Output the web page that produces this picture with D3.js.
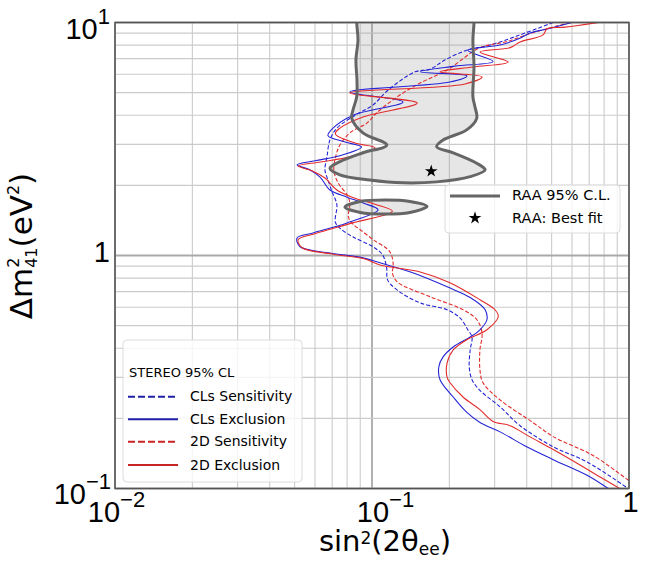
<!DOCTYPE html>
<html><head><meta charset="utf-8">
<script src="https://cdn.jsdelivr.net/npm/d3@7"></script>
<style>
body{margin:0;background:#fff}
svg{display:block}
text{font-family:"DejaVu Sans",sans-serif;fill:#000}
.tick-label{font-family:"Liberation Sans",Arial,sans-serif}
</style>
</head><body>
<svg id="c" width="648" height="576"></svg>
<script>
// ---------------- data (sin^2(2θee), Δm²41 in eV²) ----------------
const clsSensitivity = [[0.507,10],[0.377,8.85],[0.288,8.0],[0.234,7.6],[0.192,6.9],[0.168,6.3],[0.147,6.14],[0.1156,5.13],[0.101,4.43],[0.086,4.0],[0.073,3.52],[0.0686,3.13],[0.0668,2.65],[0.0656,2.33],[0.0674,2.11],[0.07,1.87],[0.073,1.65],[0.072,1.39],[0.075,1.31],[0.0845,1.2],[0.101,1.09],[0.11,1.005],[0.114,0.885],[0.115,0.786],[0.1255,0.71],[0.154,0.626],[0.196,0.585],[0.22,0.54],[0.236,0.48],[0.245,0.447],[0.241,0.393],[0.239,0.333],[0.245,0.293],[0.263,0.264],[0.315,0.224],[0.377,0.186],[0.507,0.151],[0.687,0.13],[0.98,0.101]];
const clsExclusion = [[0.60,10],[0.485,9.4],[0.41,9.0],[0.38,8.6],[0.315,8.0],[0.236,7.6],[0.296,6.8],[0.21,6.5],[0.154,6.15],[0.234,5.9],[0.201,5.55],[0.082,5.03],[0.132,4.56],[0.0845,4.0],[0.0705,3.52],[0.0674,3.27],[0.0785,3.07],[0.091,2.92],[0.075,2.68],[0.06,2.55],[0.0511,2.45],[0.0574,2.33],[0.0628,2.17],[0.0686,1.91],[0.08,1.78],[0.0923,1.68],[0.1056,1.57],[0.08,1.38],[0.059,1.25],[0.0511,1.19],[0.0525,1.09],[0.0686,1.025],[0.0923,0.977],[0.1075,0.93],[0.144,0.843],[0.196,0.734],[0.241,0.66],[0.2755,0.585],[0.28,0.53],[0.263,0.48],[0.241,0.447],[0.207,0.405],[0.189,0.367],[0.182,0.333],[0.184,0.293],[0.207,0.247],[0.234,0.212],[0.263,0.192],[0.315,0.175],[0.40,0.151],[0.507,0.133],[0.687,0.114],[0.83,0.1]];
const twoDSensitivity = [[0.59,10],[0.431,9.1],[0.33,8.25],[0.263,7.8],[0.196,6.25],[0.154,5.5],[0.1255,4.8],[0.1045,4.1],[0.0955,3.7],[0.082,3.36],[0.075,2.98],[0.0725,2.7],[0.071,2.33],[0.0738,2.05],[0.08,1.82],[0.082,1.68],[0.081,1.46],[0.0845,1.36],[0.09,1.29],[0.101,1.17],[0.1175,1.035],[0.121,0.90],[0.12,0.843],[0.1255,0.77],[0.168,0.666],[0.226,0.585],[0.256,0.53],[0.268,0.464],[0.263,0.393],[0.263,0.324],[0.27,0.285],[0.315,0.24],[0.423,0.192],[0.507,0.167],[0.687,0.143],[0.77,0.133],[1.0,0.108]];
const twoDExclusion = [[0.76,10],[0.564,9.55],[0.48,9.4],[0.463,8.85],[0.377,8.25],[0.345,7.8],[0.263,7.47],[0.339,6.77],[0.247,6.44],[0.184,6.14],[0.268,5.84],[0.23,5.45],[0.082,4.98],[0.15,4.51],[0.0923,3.93],[0.075,3.52],[0.072,3.33],[0.0859,3.04],[0.1027,2.9],[0.082,2.65],[0.063,2.52],[0.0516,2.42],[0.0584,2.31],[0.0656,2.15],[0.073,1.91],[0.0859,1.76],[0.1027,1.66],[0.12,1.55],[0.082,1.37],[0.06,1.24],[0.0516,1.17],[0.0535,1.08],[0.07,1.015],[0.094,0.966],[0.1075,0.91],[0.154,0.85],[0.201,0.764],[0.263,0.646],[0.301,0.585],[0.31,0.547],[0.28,0.48],[0.234,0.435],[0.207,0.393],[0.196,0.346],[0.196,0.30],[0.201,0.285],[0.226,0.247],[0.263,0.218],[0.296,0.194],[0.345,0.186],[0.41,0.167],[0.507,0.147],[0.662,0.124],[0.772,0.112],[0.92,0.1]];
const raaBand = [[0.0872,12],[0.0872,10],[0.0882,8.41],[0.0866,6.9],[0.0874,5.66],[0.0872,4.8],[0.0844,4.22],[0.0834,3.88],[0.0922,3.36],[0.1142,2.98],[0.0922,2.76],[0.075,2.53],[0.0686,2.37],[0.075,2.22],[0.098,2.11],[0.132,2.05],[0.1785,2.07],[0.241,2.18],[0.2755,2.33],[0.2555,2.49],[0.207,2.76],[0.1785,2.93],[0.189,3.13],[0.2335,3.46],[0.2555,3.88],[0.2515,4.35],[0.247,4.8],[0.2494,6.46],[0.247,8.41],[0.2494,10],[0.2494,12]];
const raaIsland = [[0.0785,1.615],[0.09,1.705],[0.1124,1.73],[0.1404,1.705],[0.1637,1.625],[0.1404,1.53],[0.1124,1.507],[0.09,1.53]];
const raaBestFit = [0.17, 2.3];
const xTickValues = [0.01, 0.1, 1];
const xTickLabels = [["10","\u22122"],["10","\u22121"],["1",""]];
const yTickValues = [0.1, 1, 10];
const yTickLabels = [["10","\u22121"],["1",""],["10","1"]];
const legendTitle = "STEREO 95% CL";
const legendNames = ["CLs Sensitivity","CLs Exclusion","2D Sensitivity","2D Exclusion"];
const raaLegendNames = ["RAA 95% C.L.","RAA: Best fit"];

// ---------------- layout ----------------
const X0=115, X1=629, Y0=22.5, Y1=488.5;
const BLUE="#2424d6", RED="#e32b2b", BLUE_L="#1f1fa8", RED_L="#c92424";
const svg = d3.select('#c');
const x = d3.scaleLog().domain([0.01,1]).range([X0,X1]);
const y = d3.scaleLog().domain([0.1,10]).range([Y1,Y0]);
const isMajor = v => Math.abs(Math.log10(v)-Math.round(Math.log10(v)))<1e-6;

svg.append('defs').append('clipPath').attr('id','clip')
  .append('rect').attr('x',X0).attr('y',Y0).attr('width',X1-X0).attr('height',Y1-Y0);

// grid
const grid = svg.append('g');
const xt = x.ticks(), yt = y.ticks();
grid.selectAll('line.gx').data(xt).join('line').attr('class','gx')
  .attr('x1',d=>x(d)).attr('x2',d=>x(d)).attr('y1',Y0).attr('y2',Y1)
  .attr('stroke',d=>isMajor(d)?'#a9a9a9':'#cbcbcb').attr('stroke-width',d=>isMajor(d)?1.8:1.1);
grid.selectAll('line.gy').data(yt).join('line').attr('class','gy')
  .attr('y1',d=>y(d)).attr('y2',d=>y(d)).attr('x1',X0).attr('x2',X1)
  .attr('stroke',d=>isMajor(d)?'#a9a9a9':'#cbcbcb').attr('stroke-width',d=>isMajor(d)?1.8:1.1);

const plot = svg.append('g').attr('clip-path','url(#clip)');
const line = d3.line().x(d=>x(d[0])).y(d=>y(d[1])).curve(d3.curveCatmullRom.alpha(0.5));
const closed = d3.line().x(d=>x(d[0])).y(d=>y(d[1])).curve(d3.curveCatmullRomClosed.alpha(0.5));

// RAA region
plot.append('path').attr('d',line(raaBand)).attr('fill','#9a9a9a').attr('fill-opacity',0.25).attr('stroke','none');
plot.append('path').attr('d',closed(raaIsland)).attr('fill','#9a9a9a').attr('fill-opacity',0.25).attr('stroke','none');

// STEREO curves
const series = [
  {d:clsSensitivity,c:BLUE,dash:'4,2'},
  {d:twoDSensitivity,c:RED,dash:'4,2'},
  {d:clsExclusion,c:BLUE,dash:null},
  {d:twoDExclusion,c:RED,dash:null}
];
series.forEach(s=>{
  plot.append('path').attr('d',line(s.d)).attr('fill','none').attr('stroke',s.c)
    .attr('stroke-width',1.1).attr('stroke-dasharray',s.dash);
});

plot.append('path').attr('d',line(raaBand)).attr('fill','none').attr('stroke','#666').attr('stroke-width',3);
plot.append('path').attr('d',closed(raaIsland)).attr('fill','none').attr('stroke','#666').attr('stroke-width',3);

const star = d3.symbol(d3.symbolStar, 50);
plot.append('path').attr('d',star()).attr('transform',`translate(${x(raaBestFit[0])},${y(raaBestFit[1])})`).attr('fill','#000');

// frame
svg.append('rect').attr('x',X0).attr('y',Y0).attr('width',X1-X0).attr('height',Y1-Y0)
  .attr('fill','none').attr('stroke','#555').attr('stroke-width',1.5);

// axes with custom labels
const xLayout = [{dx:1,y:522},{dx:13,y:522},{dx:1,y:512}];
const xAxis = svg.append('g').call(d3.axisBottom(x).tickValues(xTickValues).tickSize(0).tickFormat(''));
xAxis.select('.domain').remove();
xAxis.selectAll('.tick').each(function(d,i){
  const t = d3.select(this).append('text').attr('class','tick-label').attr('text-anchor','middle')
    .attr('x',xLayout[i].dx).attr('y',xLayout[i].y).attr('font-size',29).attr('fill','#000');
  t.append('tspan').text(xTickLabels[i][0]);
  if(xTickLabels[i][1]) t.append('tspan').attr('dy',-15).attr('font-size',22).text(xTickLabels[i][1]);
});
const yLayout = [{x:111,dy:14.5},{x:110,dy:6},{x:110,dy:16}];
const yAxis = svg.append('g').call(d3.axisLeft(y).tickValues(yTickValues).tickSize(0).tickFormat(''));
yAxis.select('.domain').remove();
yAxis.selectAll('.tick').each(function(d,i){
  const t = d3.select(this).append('text').attr('class','tick-label').attr('text-anchor','end')
    .attr('x',yLayout[i].x).attr('y',yLayout[i].dy).attr('font-size',29).attr('fill','#000');
  t.append('tspan').text(yTickLabels[i][0]);
  if(yTickLabels[i][1]) t.append('tspan').attr('dy',-15).attr('font-size',22).text(yTickLabels[i][1]);
});

// axis titles
const xl = svg.append('text').attr('x',385).attr('y',551).attr('text-anchor','middle').attr('font-size',29);
xl.append('tspan').text('sin');
xl.append('tspan').attr('dy',-7).attr('font-size',17).text('2');
xl.append('tspan').attr('dy',7).text('(2θ');
xl.append('tspan').attr('dy',4).attr('font-size',17).text('ee');
xl.append('tspan').attr('dy',-4).text(')');

const yl = svg.append('text').attr('transform','translate(32,246) rotate(-90)').attr('text-anchor','middle').attr('font-size',31);
yl.append('tspan').text('Δm');
yl.append('tspan').attr('dy',-13).attr('font-size',16).text('2');
yl.append('tspan').attr('dy',18).attr('dx',-10.2).attr('font-size',16).text('41');
yl.append('tspan').attr('dy',-5).text('(eV');
yl.append('tspan').attr('dy',-13).attr('font-size',16).text('2');
yl.append('tspan').attr('dy',13).text(')');

// RAA legend
const rl = svg.append('g');
rl.append('rect').attr('x',445).attr('y',185).attr('width',175).attr('height',48).attr('rx',4)
  .attr('fill','#fff').attr('fill-opacity',0.8).attr('stroke','#dcdcdc');
rl.append('line').attr('x1',450).attr('x2',500).attr('y1',196).attr('y2',196).attr('stroke','#666').attr('stroke-width',3);
rl.append('path').attr('d',star()).attr('transform','translate(475,218)').attr('fill','#000');
rl.selectAll('text').data(raaLegendNames).join('text').attr('x',512).attr('y',(d,i)=>i?222.5:200)
  .attr('font-size',14.5).text(d=>d);

// STEREO legend
const sl = svg.append('g');
sl.append('rect').attr('x',123).attr('y',340).attr('width',179).attr('height',142).attr('rx',4)
  .attr('fill','#fff').attr('fill-opacity',0.8).attr('stroke','#dcdcdc');
sl.append('text').attr('x',129).attr('y',376.5).attr('font-size',13).text(legendTitle);
const legStyles = [{c:BLUE_L,dash:'7,3'},{c:BLUE_L,dash:null},{c:RED_L,dash:'7,3'},{c:RED_L,dash:null}];
const legY = [396.7,419.3,441.7,465];
legendNames.forEach((n,i)=>{
  sl.append('line').attr('x1',128).attr('x2',178).attr('y1',legY[i]).attr('y2',legY[i])
    .attr('stroke',legStyles[i].c).attr('stroke-width',2).attr('stroke-dasharray',legStyles[i].dash);
  sl.append('text').attr('x',190).attr('y',legY[i]+4.5).attr('font-size',14).text(n);
});
</script>
</body></html>
